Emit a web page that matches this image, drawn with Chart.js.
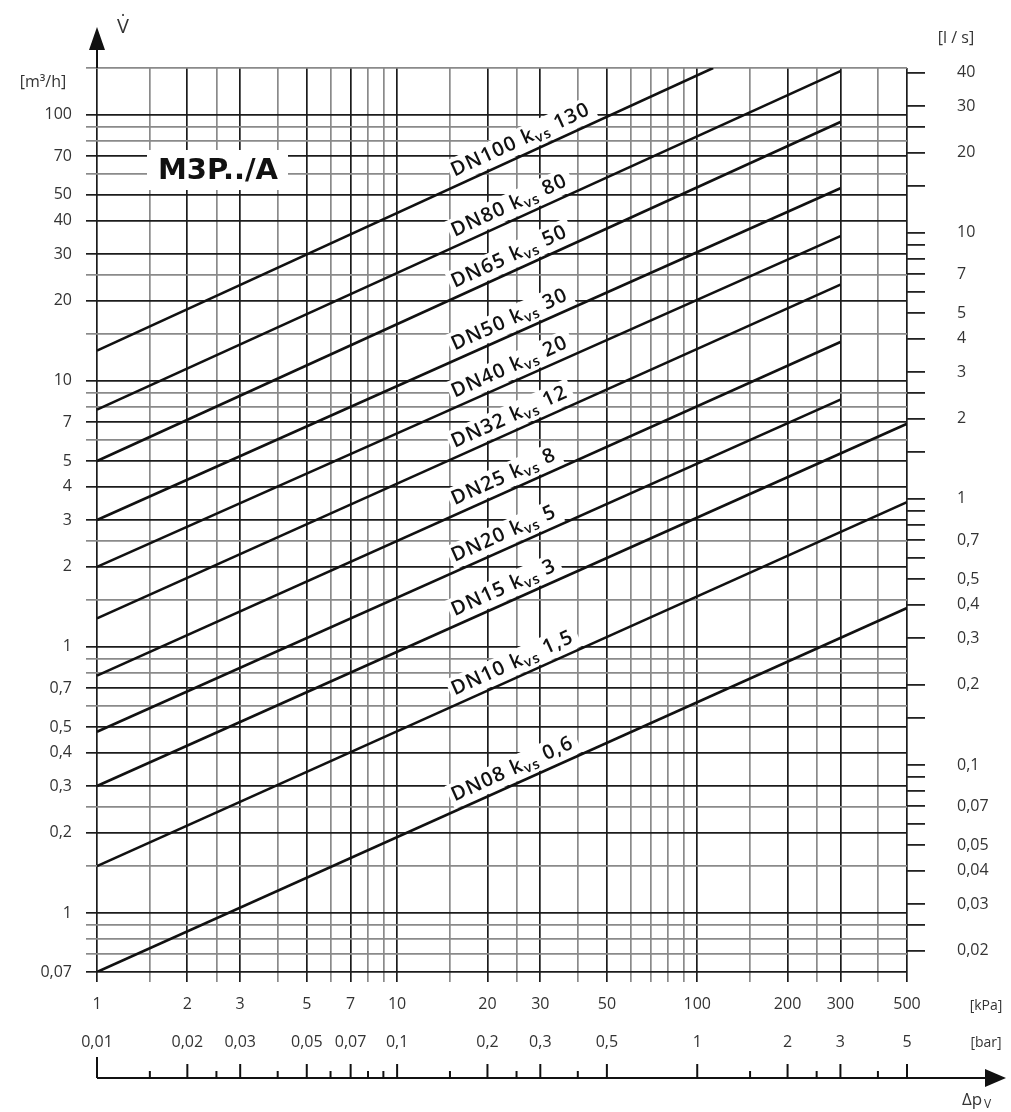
<!DOCTYPE html>
<html>
<head>
<meta charset="utf-8">
<style>
  html, body { margin: 0; padding: 0; background: #fff; }
</style>
<script src="https://cdn.jsdelivr.net/npm/chart.js@4.4.1/dist/chart.umd.min.js"></script>
</head>
<body>
<canvas id="chart" width="1011" height="1112"></canvas>
<script>
// valve sizes and their kvs values
const sizes = ['DN100', 'DN80', 'DN65', 'DN50', 'DN40', 'DN32', 'DN25', 'DN20', 'DN15', 'DN10', 'DN08'];
const kvsText = ['130', '80', '50', '30', '20', '12', '8', '5', '3', '1,5', '0,6'];

// each line: flow [m3/h] at 1 kPa, and the point where it stops
const flowAt1kPa = [13, 7.8, 5, 3, 2, 1.28, 0.78, 0.48, 0.3, 0.15, 0.06];
const endKpa = [113, 300, 300, 300, 300, 300, 300, 300, 500, 500, 500];
const endFlow = [150, 146, 94, 53, 35, 23, 14, 8.5, 6.9, 3.5, 1.4];

// x axis (pressure drop)
const kpaLabels = [1, 2, 3, 5, 7, 10, 20, 30, 50, 100, 200, 300, 500];
const barValues = [0.01, 0.02, 0.03, 0.05, 0.07, 0.1, 0.2, 0.3, 0.5, 1, 2, 3, 5];
const barLabels = ['0,01', '0,02', '0,03', '0,05', '0,07', '0,1', '0,2', '0,3', '0,5', '1', '2', '3', '5'];
const kpaGrid = [1, 1.5, 2, 2.5, 3, 4, 5, 6, 7, 8, 9, 10, 15, 20, 25, 30, 40, 50, 60, 70, 80, 90, 100, 150, 200, 250, 300, 400, 500];
const arrowTicks = [1, 1.5, 2, 2.5, 3, 4, 5, 6, 7, 8, 9, 10, 15, 20, 25, 30, 40, 50, 100, 150, 200, 250, 300, 400, 500];

// left y axis (m3/h) - labels as printed on the sheet
const flowGrid = [150, 100, 90, 80, 70, 60, 50, 40, 30, 25, 20, 15, 10, 9, 8, 7, 6, 5, 4, 3, 2.5, 2, 1.5,
  1, 0.9, 0.8, 0.7, 0.6, 0.5, 0.4, 0.3, 0.25, 0.2, 0.15, 0.1, 0.09, 0.08, 0.07, 0.06];
const flowTicks = [100, 70, 50, 40, 30, 20, 10, 7, 5, 4, 3, 2, 1, 0.7, 0.5, 0.4, 0.3, 0.2, 0.1, 0.06];
const flowLabels = ['100', '70', '50', '40', '30', '20', '10', '7', '5', '4', '3', '2', '1', '0,7', '0,5', '0,4', '0,3', '0,2', '1', '0,07'];

// right y axis (l/s)
const lsTicks = [40, 30, 20, 10, 7, 5, 4, 3, 2, 1, 0.7, 0.5, 0.4, 0.3, 0.2, 0.1, 0.07, 0.05, 0.04, 0.03, 0.02];
const lsLabels = ['40', '30', '20', '10', '7', '5', '4', '3', '2', '1', '0,7', '0,5', '0,4', '0,3', '0,2', '0,1', '0,07', '0,05', '0,04', '0,03', '0,02'];
const lsMinor = [25, 15, 9, 8, 6, 2.5, 1.5, 0.9, 0.8, 0.6, 0.15, 0.09, 0.08, 0.06, 0.025];

const TICK_FONT = { family: 'Open Sans', size: 16 };
const labelAnchorKpa = 16;
const LABEL_OFF = 9;
const MAIN = '600 20px "Open Sans"';
const SUB = '600 14px "Open Sans"';

function gridColor(major) {
  return major ? '#1c1c1c' : '#8a8a8a';
}

function lineGeom(chart, i) {
  const xs = chart.scales.x, ys = chart.scales.y;
  const d = chart.data.datasets[i].data;
  const x1 = xs.getPixelForValue(d[0].x), y1 = ys.getPixelForValue(d[0].y);
  const x2 = xs.getPixelForValue(d[1].x), y2 = ys.getPixelForValue(d[1].y);
  const ax = xs.getPixelForValue(labelAnchorKpa);
  const ay = y1 + (ax - x1) * (y2 - y1) / (x2 - x1);
  return { x: ax, y: ay, angle: Math.atan2(y2 - y1, x2 - x1) };
}

function drawLabel(c, i, measureOnly) {
  const parts = [
    { t: sizes[i] + ' k', f: MAIN, dy: 0 },
    { t: 'vs', f: SUB, dy: 4 },
    { t: ' ' + kvsText[i], f: MAIN, dy: 0 }
  ];
  let x = 0;
  c.letterSpacing = '1.2px';
  parts.forEach(p => {
    c.font = p.f;
    if (!measureOnly) c.fillText(p.t, x, -LABEL_OFF + p.dy);
    x += c.measureText(p.t).width;
  });
  return x;
}

const decor = {
  id: 'decor',
  beforeDatasetsDraw(chart) {
    const c = chart.ctx;
    c.save();
    c.fillStyle = '#fff';
    c.fillRect(147, 150, 141, 40);
    chart.data.datasets.forEach((ds, i) => {
      const g = lineGeom(chart, i);
      c.save();
      c.translate(g.x, g.y);
      c.rotate(g.angle);
      const w = drawLabel(c, i, true);
      c.fillRect(-3, -LABEL_OFF - 18, w + 8, 18 + LABEL_OFF - 2);
      c.restore();
    });
    c.restore();
  },
  afterDatasetsDraw(chart) {
    const c = chart.ctx;
    c.save();
    c.fillStyle = '#111';
    c.textBaseline = 'alphabetic';
    chart.data.datasets.forEach((ds, i) => {
      const g = lineGeom(chart, i);
      c.save();
      c.translate(g.x, g.y);
      c.rotate(g.angle);
      drawLabel(c, i, false);
      c.restore();
    });
    c.letterSpacing = '0px';
    c.font = 'bold 29px "DejaVu Sans"';
    c.textAlign = 'center';
    c.textBaseline = 'middle';
    c.fillText('M3P../A', 218, 171);
    c.restore();
  },
  afterDraw(chart) {
    const c = chart.ctx, xs = chart.scales.x, a = chart.chartArea;
    c.save();
    c.strokeStyle = '#111';
    c.fillStyle = '#111';
    c.lineWidth = 2;
    // flow arrow
    c.beginPath(); c.moveTo(a.left, a.top); c.lineTo(a.left, 46); c.stroke();
    c.beginPath(); c.moveTo(a.left, 27); c.lineTo(a.left - 8, 50); c.lineTo(a.left + 8, 50); c.closePath(); c.fill();
    // pressure arrow
    const ay = 1078;
    c.beginPath(); c.moveTo(a.left, ay); c.lineTo(990, ay); c.stroke();
    c.beginPath(); c.moveTo(1006, ay); c.lineTo(985, ay - 9); c.lineTo(985, ay + 9); c.closePath(); c.fill();
    arrowTicks.forEach(v => {
      const px = xs.getPixelForValue(v);
      const h = v === 1 ? 21 : (kpaLabels.includes(v) ? 14 : 7);
      c.beginPath(); c.moveTo(px, ay); c.lineTo(px, ay - h); c.stroke();
    });
    // unit texts
    c.fillStyle = '#333';
    c.textAlign = 'center';
    c.textBaseline = 'middle';
    c.font = '16px "Open Sans"';
    c.fillText('[m³/h]', 43, 82);
    c.fillText('[l / s]', 956, 38);
    c.font = '14px "Open Sans"';
    c.fillText('[kPa]', 986, 1006);
    c.fillText('[bar]', 986, 1043);
    c.font = '20px "Open Sans"';
    c.fillText('V\u0307', 123, 27);
    c.font = '17px "Open Sans"';
    c.textAlign = 'left';
    c.fillText('\u0394p', 962, 1100);
    c.font = '12px "Open Sans"';
    c.fillText('V', 984, 1105);
    c.restore();
  }
};

new Chart(document.getElementById('chart'), {
  type: 'line',
  data: {
    datasets: sizes.map((s, i) => ({
      label: s,
      data: [{ x: 1, y: flowAt1kPa[i] }, { x: endKpa[i], y: endFlow[i] }],
      borderColor: '#111',
      borderWidth: 2.6,
      pointRadius: 0,
      tension: 0,
      fill: false
    }))
  },
  options: {
    responsive: false,
    devicePixelRatio: 1,
    animation: false,
    layout: { padding: { top: 68, left: 0, right: 0, bottom: 0 } },
    plugins: { legend: { display: false }, tooltip: { enabled: false } },
    scales: {
      x: {
        type: 'logarithmic',
        position: 'bottom',
        min: 1,
        max: 500,
        afterBuildTicks: s => { s.ticks = kpaGrid.map(v => ({ value: v })); },
        afterFit: s => { s.height = 55; },
        ticks: {
          autoSkip: false, maxRotation: 0, padding: 13, color: '#333', font: TICK_FONT,
          callback: v => kpaLabels.includes(v) ? String(v) : ''
        },
        grid: {
          color: ctx => gridColor(kpaLabels.includes(ctx.tick.value)),
          lineWidth: 1.7,
          tickLength: 10
        },
        border: { display: false }
      },
      x2: {
        type: 'logarithmic',
        position: 'bottom',
        min: 0.01,
        max: 5,
        afterBuildTicks: s => { s.ticks = barValues.map(v => ({ value: v })); },
        afterFit: s => { s.height = 85; },
        ticks: {
          autoSkip: false, maxRotation: 0, padding: 6, color: '#333', font: TICK_FONT,
          callback: v => barLabels[barValues.indexOf(v)]
        },
        grid: { display: false, drawTicks: false },
        border: { display: false }
      },
      y: {
        type: 'logarithmic',
        position: 'left',
        min: 0.06,
        max: 150,
        afterBuildTicks: s => { s.ticks = flowGrid.map(v => ({ value: v })); },
        afterFit: s => { s.width = 97; },
        ticks: {
          autoSkip: false, padding: 14, color: '#333', font: TICK_FONT,
          callback: v => { const k = flowTicks.indexOf(v); return k >= 0 ? flowLabels[k] : ''; }
        },
        grid: {
          color: ctx => gridColor(flowTicks.includes(ctx.tick.value)),
          lineWidth: 1.7,
          tickLength: 11
        },
        border: { display: false }
      },
      y2: {
        type: 'logarithmic',
        position: 'right',
        min: 0.06 / 3.6,
        max: 150 / 3.6,
        afterBuildTicks: s => { s.ticks = lsTicks.concat(lsMinor).map(v => ({ value: v })); },
        afterFit: s => { s.width = 104; },
        ticks: {
          autoSkip: false, padding: 32, color: '#333', font: TICK_FONT,
          callback: v => { const k = lsTicks.indexOf(v); return k >= 0 ? lsLabels[k] : ''; }
        },
        grid: { drawOnChartArea: false, tickLength: 18, color: '#222', lineWidth: 1.8 },
        border: { display: false }
      }
    }
  },
  plugins: [decor]
});
</script>
</body>
</html>
